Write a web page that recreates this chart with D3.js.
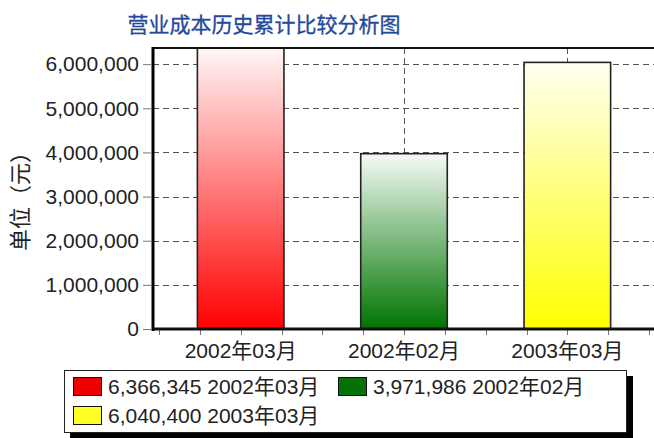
<!DOCTYPE html>
<html><head><meta charset="utf-8">
<script src="https://cdn.jsdelivr.net/npm/d3@7/dist/d3.min.js"></script>
<style>
html,body{margin:0;padding:0;background:#fff;}
svg{display:block;}
text{font-family:"Liberation Sans",Arial,"Noto Sans CJK SC",sans-serif;}
</style></head>
<body>
<script>
const title = "营业成本历史累计比较分析图";
const yLabel = "单位（元）";
const categories = ["2002年03月", "2002年02月", "2003年03月"];
const values = [6366345, 3971986, 6040400];
const yTicks = [0, 1000000, 2000000, 3000000, 4000000, 5000000, 6000000];
const barColors = ["#ff0000", "#007400", "#ffff00"];
const barTopColors = ["#fff6f6", "#f6fbf6", "#fffff2"];
const legendColors = ["#ee0000", "#087008", "#ffff22"];

const W = 654, H = 438;
const svg = d3.select("body").append("svg").attr("width", W).attr("height", H);
const plot = {left: 153, top: 48, right: 662, bottom: 329};

const x = d3.scaleBand().domain(categories).range([159, 649]).padding(0);
const y = d3.scaleLinear().domain([0, d3.max(values)]).range([plot.bottom, plot.top]);

// gradients
const defs = svg.append("defs");
categories.forEach((c, i) => {
  const g = defs.append("linearGradient").attr("id", "g" + i)
    .attr("x1", 0).attr("y1", 0).attr("x2", 0).attr("y2", 1);
  g.append("stop").attr("offset", "0%").attr("stop-color", barTopColors[i]);
  g.append("stop").attr("offset", "100%").attr("stop-color", barColors[i]);
});

// title
svg.append("text").attr("x", 264).attr("y", 32).attr("text-anchor", "middle")
  .attr("font-size", 21).attr("fill", "#24489c")
  .attr("stroke", "#24489c").attr("stroke-width", 0.3)
  .style("font-family", "'Noto Sans CJK SC',sans-serif").text(title);

// y label
svg.append("text").attr("transform", "translate(28,196) rotate(-90)")
  .attr("text-anchor", "middle").attr("font-size", 22).attr("fill", "#222")
  .style("font-family", "'Noto Sans CJK SC',sans-serif").text(yLabel);

// horizontal grid
svg.append("g").selectAll("line").data(yTicks.filter(d => d > 0)).join("line")
  .attr("x1", plot.left).attr("x2", plot.right)
  .attr("y1", d => Math.round(y(d)) + 0.5).attr("y2", d => Math.round(y(d)) + 0.5)
  .attr("stroke", "#555").attr("stroke-width", 1).attr("stroke-dasharray", "6,4");

// vertical grid at category centers
svg.append("g").selectAll("line").data(categories).join("line")
  .attr("x1", d => Math.round(x(d) + x.bandwidth() / 2) + 0.5)
  .attr("x2", d => Math.round(x(d) + x.bandwidth() / 2) + 0.5)
  .attr("y1", plot.top).attr("y2", plot.bottom)
  .attr("stroke", "#555").attr("stroke-width", 1).attr("stroke-dasharray", "6,4");

// bars
const bw = x.bandwidth() * 0.53;
svg.append("g").selectAll("rect").data(values).join("rect")
  .attr("x", (d, i) => x(categories[i]) + x.bandwidth() / 2 - bw / 2)
  .attr("width", bw)
  .attr("y", d => Math.max(y(d), plot.top))
  .attr("height", d => plot.bottom - Math.max(y(d), plot.top))
  .attr("fill", (d, i) => "url(#g" + i + ")")
  .attr("stroke", "#222").attr("stroke-width", 1.6);

// top border
svg.append("line").attr("x1", plot.left).attr("x2", plot.right)
  .attr("y1", plot.top).attr("y2", plot.top).attr("stroke", "#111").attr("stroke-width", 2);

// y axis
const yAxis = d3.axisLeft(y).tickValues(yTicks).tickSize(8).tickPadding(4)
  .tickFormat(d3.format(","));
const ya = svg.append("g").attr("transform", `translate(${plot.left - 2},0)`).call(yAxis);
ya.select(".domain").remove();
ya.selectAll(".tick line").attr("stroke", "#777");
ya.selectAll("text").attr("font-size", 21).attr("fill", "#222")
  .style("font-family", "'Liberation Sans',Arial,sans-serif");
svg.append("line").attr("x1", plot.left).attr("x2", plot.left)
  .attr("y1", plot.top - 1).attr("y2", plot.bottom + 2).attr("stroke", "#000").attr("stroke-width", 3);

// x axis
const xAxis = d3.axisBottom(x).tickSize(0).tickPadding(14);
const xa = svg.append("g").attr("transform", `translate(0,${plot.bottom})`).call(xAxis);
xa.select(".domain").remove();
xa.selectAll("text").attr("font-size", 21).attr("fill", "#222")
  .style("font-family", "'Liberation Sans',Arial,'Noto Sans CJK SC',sans-serif");
// minor ticks (quarter steps)
const minor = [];
categories.forEach(c => { for (let k = 0; k < 4; k++) minor.push(x(c) + k * x.bandwidth() / 4); });
minor.push(x.range()[1]);
svg.append("g").selectAll("line").data(minor).join("line")
  .attr("x1", d => Math.round(d) + 0.5).attr("x2", d => Math.round(d) + 0.5)
  .attr("y1", plot.bottom + 1).attr("y2", plot.bottom + 6).attr("stroke", "#777");
svg.append("line").attr("x1", plot.left).attr("x2", plot.right)
  .attr("y1", plot.bottom).attr("y2", plot.bottom).attr("stroke", "#111").attr("stroke-width", 3);

// legend
const lg = svg.append("g");
lg.append("rect").attr("x", 70).attr("y", 376).attr("width", 563).attr("height", 63).attr("fill", "#000");
lg.append("rect").attr("x", 64.5).attr("y", 370.5).attr("width", 562).attr("height", 62)
  .attr("fill", "#fff").attr("stroke", "#222").attr("stroke-width", 1);
const legPos = [[73, 377], [338, 377], [73, 406]];
const fmt = d3.format(",");
values.forEach((v, i) => {
  const [lx, ly] = legPos[i];
  lg.append("rect").attr("x", lx + 0.5).attr("y", ly + 0.5).attr("width", 28).attr("height", 18)
    .attr("fill", legendColors[i]).attr("stroke", "#111").attr("stroke-width", 1);
  lg.append("text").attr("x", lx + 35).attr("y", ly + 17).attr("font-size", 21).attr("fill", "#222")
    .text(fmt(v) + " " + categories[i]);
});
</script>
</body></html>
